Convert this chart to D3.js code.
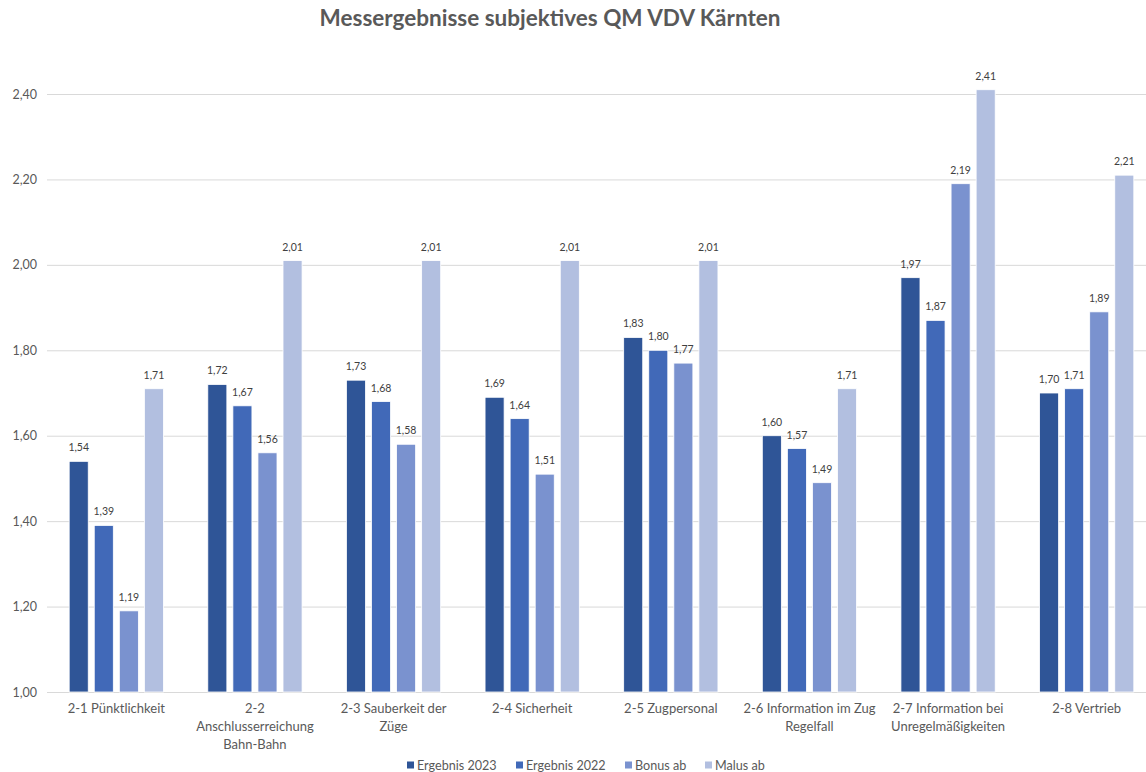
<!DOCTYPE html>
<html>
<head>
<meta charset="utf-8">
<script src="https://cdn.jsdelivr.net/npm/d3@7"></script>
<style>
  html, body { margin: 0; padding: 0; background: #fff; }
  svg { display: block; font-family: Lato, "Open Sans", sans-serif; }
</style>
</head>
<body>
<svg id="chart" width="1146" height="772"></svg>
<script>
// Categories (line breaks mark the wrapped axis labels)
const categories = [
  "2-1 Pünktlichkeit",
  "2-2\nAnschlusserreichung\nBahn-Bahn",
  "2-3 Sauberkeit der\nZüge",
  "2-4 Sicherheit",
  "2-5 Zugpersonal",
  "2-6 Information im Zug\nRegelfall",
  "2-7 Information bei\nUnregelmäßigkeiten",
  "2-8 Vertrieb"
];
const seriesNames = ["Ergebnis 2023", "Ergebnis 2022", "Bonus ab", "Malus ab"];
const ergebnis2023 = [1.54, 1.72, 1.73, 1.69, 1.83, 1.60, 1.97, 1.70];
const ergebnis2022 = [1.39, 1.67, 1.68, 1.64, 1.80, 1.57, 1.87, 1.71];
const bonusAb      = [1.19, 1.56, 1.58, 1.51, 1.77, 1.49, 2.19, 1.89];
const malusAb      = [1.71, 2.01, 2.01, 2.01, 2.01, 1.71, 2.41, 2.21];
const yTicks = [1.0, 1.2, 1.4, 1.6, 1.8, 2.0, 2.2, 2.4];
const colors = ["#2F5597", "#4169B8", "#7A92CF", "#B2BFE0"];

const seriesValues = [ergebnis2023, ergebnis2022, bonusAb, malusAb];
const fmt = v => d3.format(".2f")(v).replace(".", ",");

const svg = d3.select("#chart");
const margin = { left: 47, right: -10, top: 94, bottom: 80 };
const W = 1146, H = 772;

const x0 = d3.scaleBand()
  .domain(d3.range(categories.length))
  .range([margin.left, W - margin.right])
  .paddingInner(0.32)
  .paddingOuter(0.16);
const x1 = d3.scaleBand()
  .domain(d3.range(seriesNames.length))
  .range([0, x0.bandwidth()])
  .paddingInner(0.24)
  .paddingOuter(0);
const y = d3.scaleLinear().domain([1.0, 2.4]).range([692, 94]);

// Title
svg.append("text")
  .attr("x", 550).attr("y", 26)
  .attr("text-anchor", "middle")
  .attr("font-size", 22.5).attr("font-weight", "bold")
  .attr("fill", "#595959")
  .text("Messergebnisse subjektives QM VDV Kärnten");

// Grid lines and y labels
const yAxis = d3.axisLeft(y)
  .tickValues(yTicks)
  .tickSize(-(W - margin.left))
  .tickFormat(fmt);
const gy = svg.append("g")
  .attr("transform", `translate(${margin.left},0)`)
  .call(yAxis);
gy.select(".domain").remove();
gy.selectAll(".tick line").attr("stroke", "#D9D9D9").attr("stroke-width", 1);
gy.selectAll(".tick text")
  .attr("x", -10)
  .attr("fill", "#595959")
  .attr("font-size", 12.5)
  .attr("font-family", "Lato, sans-serif");

// Bars
const groups = svg.append("g").selectAll("g")
  .data(categories.map((c, i) => i))
  .join("g")
  .attr("transform", i => `translate(${x0(i)},0)`);

groups.selectAll("rect")
  .data(i => seriesValues.map((s, k) => ({ k, v: s[i] })))
  .join("rect")
  .attr("x", d => x1(d.k))
  .attr("width", x1.bandwidth())
  .attr("y", d => y(d.v))
  .attr("height", d => y(1.0) - y(d.v))
  .attr("fill", d => colors[d.k])
  .attr("stroke", "#fff")
  .attr("stroke-width", 0.8);

groups.selectAll("text.val")
  .data(i => seriesValues.map((s, k) => ({ k, v: s[i] })))
  .join("text")
  .attr("class", "val")
  .attr("x", d => x1(d.k) + x1.bandwidth() / 2)
  .attr("y", d => y(d.v) - 10)
  .attr("text-anchor", "middle")
  .attr("font-size", 10.5)
  .attr("fill", "#404040")
  .text(d => fmt(d.v));

// Category labels
categories.forEach((c, i) => {
  const t = svg.append("text")
    .attr("x", x0(i) + x0.bandwidth() / 2)
    .attr("y", 713)
    .attr("text-anchor", "middle")
    .attr("font-size", 13)
    .attr("fill", "#595959");
  c.split("\n").forEach((line, j) => {
    t.append("tspan")
      .attr("x", x0(i) + x0.bandwidth() / 2)
      .attr("dy", j === 0 ? 0 : 18)
      .text(line);
  });
});

// Legend
const legendX = [407, 516, 625, 705];
const lg = svg.append("g");
seriesNames.forEach((n, k) => {
  lg.append("rect")
    .attr("x", legendX[k]).attr("y", 761.5)
    .attr("width", 7).attr("height", 7)
    .attr("fill", colors[k]);
  lg.append("text")
    .attr("x", legendX[k] + 10).attr("y", 769.5)
    .attr("font-size", 12.6)
    .attr("fill", "#595959")
    .text(n);
});
</script>
</body>
</html>
